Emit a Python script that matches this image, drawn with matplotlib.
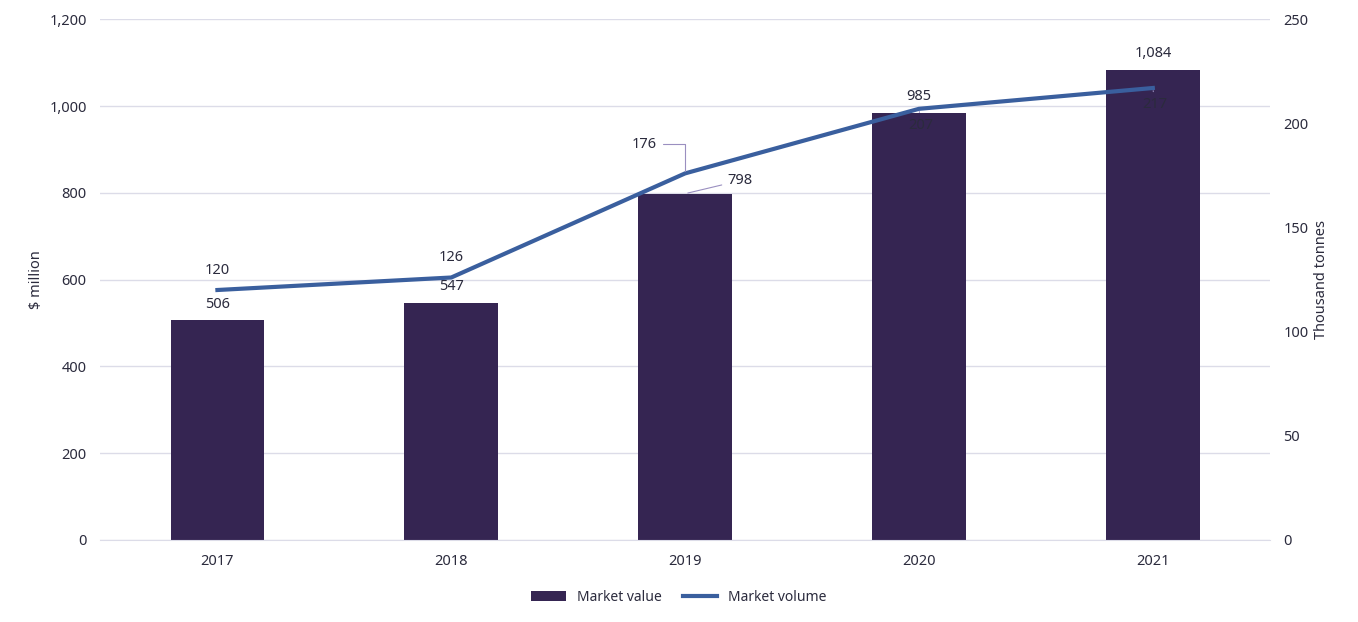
import matplotlib.pyplot as plt

years = ["2017", "2018", "2019", "2020", "2021"]
market_value = [506, 547, 798, 985, 1084]
market_volume = [120, 126, 176, 207, 217]

plt.rcParams['font.family'] = ['Noto Sans', 'DejaVu Sans']
txt = '#2b2b3d'

fig = plt.figure(figsize=(13.58, 6.22), dpi=100)
ax = fig.add_axes([0.074, 0.132, 0.861, 0.837])
ax2 = ax.twinx()

x = list(range(len(years)))
ax.bar(x, market_value, width=0.4, color='#352552', zorder=2, label='Market value')
ax2.plot(x, market_volume, color='#3a5f9e', lw=3, zorder=3, label='Market volume')

ax.set_xlim(-0.5, 4.5)
ax.set_ylim(0, 1200)
ax.set_yticks(range(0, 1201, 200))
ax.set_yticklabels([f"{v:,}" for v in range(0, 1201, 200)])
ax2.set_ylim(0, 250)
ax2.set_yticks(range(0, 251, 50))
ax.set_xticks(x)
ax.set_xticklabels(years)
ax.grid(axis='y', color='#dcdce8', lw=1, zorder=0)
for a in (ax, ax2):
    for s in a.spines.values():
        s.set_visible(False)
    a.tick_params(length=0, labelsize=10.5, colors=txt, pad=10)
ax.spines['bottom'].set_visible(True)
ax.spines['bottom'].set_color('#dcdce8')
ax.set_ylabel("$ million", fontsize=10.5, color=txt)
ax2.set_ylabel("Thousand tonnes", fontsize=10.5, color=txt)
ax.set_zorder(ax2.get_zorder() - 1)
ax2.patch.set_visible(False)
ax.patch.set_visible(False)

# bar labels
bar_off = [(0, 20), (0, 20), (28, 30), (0, 20), (0, 20)]
for i, v in enumerate(market_value):
    dx, dy = bar_off[i]
    if i == 2:
        ax.annotate(f"{v:,}", (i, v), xytext=(i + 0.18, v + 30), ha='left', va='center',
                    fontsize=10.5, color=txt,
                    arrowprops=dict(arrowstyle='-', color='#9a8fc0', lw=0.8))
    else:
        ax.text(i, v + 20, f"{v:,}", ha='center', va='bottom', fontsize=10.5, color=txt)

# line labels
for i, v in enumerate(market_volume):
    if i == 2:
        ax2.annotate(str(v), (i, v), xytext=(i - 0.12, v + 14), ha='right', va='center',
                     fontsize=10.5, color=txt,
                     arrowprops=dict(arrowstyle='-', color='#9a8fc0', lw=0.8,
                                     connectionstyle='angle,angleA=0,angleB=90'))
    elif i >= 3:
        ax2.annotate(str(v), (i, v), xytext=(i + 0.01, v - 8), ha='center', va='center',
                     fontsize=10.5, color=txt,
                     arrowprops=dict(arrowstyle='-', color='#9a8fc0', lw=0.8))
    else:
        ax2.text(i, v + 6, str(v), ha='center', va='bottom', fontsize=10.5, color=txt)

h1, l1 = ax.get_legend_handles_labels()
h2, l2 = ax2.get_legend_handles_labels()
fig.legend(h1 + h2, l1 + l2, loc='center', bbox_to_anchor=(0.5, 0.04), ncol=2,
           frameon=False, fontsize=10, handlelength=2.5, columnspacing=1.5,
           labelcolor=txt)

fig.savefig("out.png")
